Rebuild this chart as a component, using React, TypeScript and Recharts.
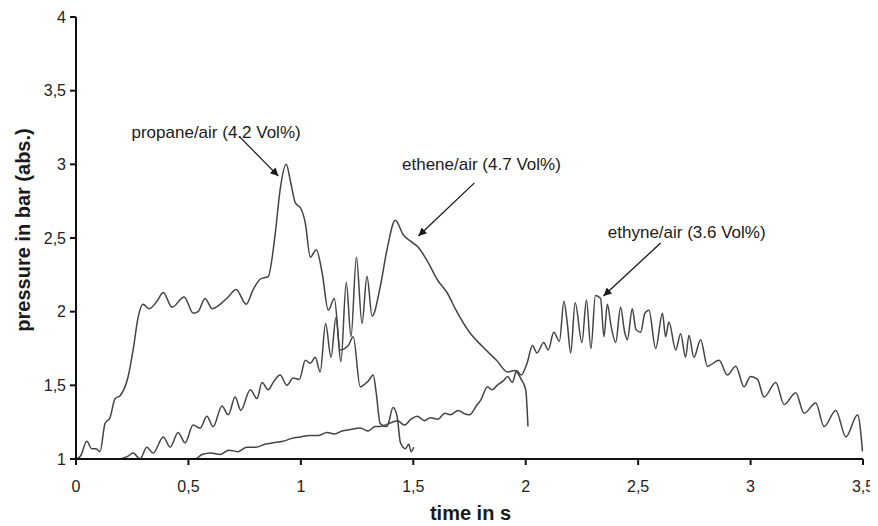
import React from 'react';
import { LineChart, Line, XAxis, YAxis, ReferenceLine, ReferenceDot } from 'recharts';

const xTicks = [0, 0.5, 1, 1.5, 2, 2.5, 3, 3.5];
const yTicks = [1, 1.5, 2, 2.5, 3, 3.5, 4];

const propane: [number, number][] = [
  [0.0, 1.0], [0.02, 1.02], [0.048, 1.12], [0.07, 1.07], [0.089, 1.07], [0.107, 1.05],
  [0.129, 1.24], [0.151, 1.28], [0.174, 1.41], [0.196, 1.43], [0.232, 1.56], [0.254, 1.74],
  [0.276, 1.96], [0.298, 2.05], [0.325, 2.02], [0.36, 2.07], [0.388, 2.13], [0.427, 2.03],
  [0.481, 2.1], [0.521, 1.99], [0.543, 2.0], [0.574, 2.09], [0.606, 2.02], [0.641, 2.05],
  [0.677, 2.1], [0.712, 2.15], [0.757, 2.05], [0.788, 2.15], [0.819, 2.22], [0.855, 2.24],
  [0.886, 2.53], [0.908, 2.83], [0.935, 3.0], [0.953, 2.89], [0.975, 2.74], [1.0, 2.7],
  [1.02, 2.6], [1.042, 2.37], [1.069, 2.42], [1.095, 2.26], [1.122, 2.01], [1.149, 2.09],
  [1.175, 1.74], [1.211, 1.77], [1.233, 1.83], [1.264, 1.49], [1.277, 1.5], [1.3, 1.53],
  [1.322, 1.57], [1.335, 1.45], [1.353, 1.24], [1.383, 1.22], [1.41, 1.35], [1.428, 1.29],
  [1.443, 1.11], [1.465, 1.07], [1.48, 1.1], [1.49, 1.05], [1.502, 1.08],
];

const ethene: [number, number][] = [
  [0.2, 1.0], [0.232, 1.02], [0.254, 1.04], [0.285, 1.0], [0.315, 1.08], [0.343, 1.04],
  [0.388, 1.15], [0.419, 1.08], [0.454, 1.18], [0.485, 1.11], [0.521, 1.23], [0.552, 1.21],
  [0.582, 1.29], [0.61, 1.22], [0.649, 1.36], [0.677, 1.3], [0.708, 1.42], [0.733, 1.33],
  [0.775, 1.47], [0.805, 1.41], [0.827, 1.52], [0.855, 1.47], [0.877, 1.52], [0.908, 1.57],
  [0.938, 1.5], [0.966, 1.55], [0.993, 1.54], [1.02, 1.67], [1.042, 1.65], [1.064, 1.69],
  [1.086, 1.59], [1.11, 1.92], [1.134, 1.69], [1.156, 1.96], [1.178, 1.66], [1.202, 2.2],
  [1.223, 1.83], [1.247, 2.37], [1.272, 1.92], [1.294, 2.24], [1.317, 1.97], [1.353, 2.17],
  [1.383, 2.42], [1.42, 2.62], [1.456, 2.52], [1.495, 2.47], [1.52, 2.44], [1.56, 2.35],
  [1.61, 2.21], [1.65, 2.13], [1.69, 2.01], [1.75, 1.86], [1.81, 1.76], [1.87, 1.67],
  [1.92, 1.59], [1.95, 1.6], [1.98, 1.54], [2.0, 1.47], [2.01, 1.22],
];

const ethyne: [number, number][] = [
  [0.5, 1.0], [0.53, 1.0], [0.56, 1.03], [0.6, 1.04], [0.64, 1.03], [0.68, 1.06], [0.72, 1.05],
  [0.76, 1.08], [0.8, 1.08], [0.84, 1.1], [0.877, 1.11], [0.92, 1.12], [0.96, 1.14], [1.0, 1.15],
  [1.04, 1.16], [1.08, 1.16], [1.116, 1.18], [1.15, 1.17], [1.183, 1.19], [1.22, 1.2],
  [1.264, 1.21], [1.3, 1.19], [1.33, 1.22], [1.353, 1.22], [1.39, 1.24], [1.43, 1.26],
  [1.46, 1.23], [1.49, 1.27], [1.517, 1.29], [1.55, 1.26], [1.576, 1.28], [1.61, 1.27],
  [1.64, 1.31], [1.665, 1.3], [1.7, 1.33], [1.724, 1.31], [1.75, 1.3], [1.78, 1.36],
  [1.8, 1.4], [1.83, 1.49], [1.85, 1.47], [1.873, 1.5], [1.9, 1.53], [1.92, 1.56],
  [1.94, 1.52], [1.96, 1.6], [1.98, 1.57], [2.006, 1.65], [2.03, 1.77], [2.05, 1.72],
  [2.08, 1.79], [2.1, 1.74], [2.125, 1.86], [2.15, 1.8], [2.17, 2.07], [2.185, 1.92],
  [2.2, 1.72], [2.22, 2.06], [2.25, 1.79], [2.27, 2.08], [2.29, 1.75], [2.31, 2.11],
  [2.333, 2.09], [2.348, 1.83], [2.363, 2.05], [2.38, 1.9], [2.4, 1.79], [2.422, 2.03],
  [2.44, 1.86], [2.452, 1.81], [2.474, 2.02], [2.49, 1.88], [2.511, 1.86], [2.53, 1.99],
  [2.548, 2.01], [2.578, 1.75], [2.608, 1.99], [2.622, 1.83], [2.637, 1.93], [2.667, 1.74],
  [2.689, 1.85], [2.711, 1.69], [2.726, 1.84], [2.748, 1.69], [2.778, 1.81], [2.808, 1.63],
  [2.86, 1.67], [2.897, 1.57], [2.934, 1.63], [2.971, 1.49], [3.0, 1.56], [3.031, 1.54],
  [3.06, 1.42], [3.112, 1.52], [3.149, 1.37], [3.201, 1.45], [3.238, 1.31], [3.29, 1.38],
  [3.327, 1.22], [3.379, 1.33], [3.424, 1.15], [3.476, 1.3], [3.498, 1.05],
];

const seriesNames = ['propane/air (4.2 Vol%)', 'ethene/air (4.7 Vol%)', 'ethyne/air (3.6 Vol%)'];
const labelPos: [number, number][] = [[0.623, 3.22], [1.803, 3.003], [2.716, 2.541]];
const arrowFrom: [number, number][] = [[0.726, 3.19], [1.772, 2.874], [2.6, 2.466]];
const arrowTo: [number, number][] = [[0.9, 2.92], [1.523, 2.514], [2.346, 2.107]];

const toRows = (pts: [number, number][]) => pts.map(([t, p]) => ({ t, p }));
const fmt = (v: number) => String(v).replace('.', ',');

const FONT = '"Liberation Sans", Arial, sans-serif';
const LINE = '#444444';

export default function App() {
  const series = [propane, ethene, ethyne];
  return (
    <LineChart width={870} height={518} margin={{ top: 9, right: 15, bottom: 0, left: 0 }}>
      <defs>
        <marker id="arrowHead" viewBox="0 0 10 10" refX="10" refY="5" markerWidth="11" markerHeight="8"
          markerUnits="userSpaceOnUse" orient="auto">
          <path d="M0,0 L10,5 L0,10 z" fill="#1a1a1a" />
        </marker>
      </defs>
      <XAxis
        type="number"
        dataKey="t"
        domain={[0, 3.5]}
        ticks={xTicks}
        tickFormatter={fmt}
        height={67}
        tickSize={6}
        tickMargin={16}
        axisLine={{ stroke: '#111', strokeWidth: 2 }}
        tickLine={{ stroke: '#111', strokeWidth: 2 }}
        tick={{ fill: '#222', fontSize: 16, fontFamily: FONT }}
        allowDataOverflow
        label={{
          position: 'center',
          content: (props: any) => {
            const vb = props.viewBox;
            return (
              <text x={vb.x + vb.width / 2 + 1} y={vb.y + 61} textAnchor="middle"
                fontFamily={FONT} fontWeight="bold" fontSize={20} fill="#1a1a1a">
                time in s
              </text>
            );
          },
        }}
      />
      <YAxis
        type="number"
        domain={[1, 4]}
        ticks={yTicks}
        tickFormatter={fmt}
        width={68}
        tickSize={6}
        tickMargin={4}
        axisLine={{ stroke: '#111', strokeWidth: 2 }}
        tickLine={{ stroke: '#111', strokeWidth: 2 }}
        tick={{ fill: '#222', fontSize: 16, fontFamily: FONT }}
        allowDataOverflow
        label={{
          position: 'center',
          content: (props: any) => {
            const vb = props.viewBox;
            return (
              <text transform={`translate(${vb.x + 22}, ${vb.y + vb.height / 2 - 8}) rotate(-90)`}
                textAnchor="middle" fontFamily={FONT} fontWeight="bold" fontSize={20} fill="#1a1a1a">
                pressure in bar (abs.)
              </text>
            );
          },
        }}
      />
      {series.map((s, i) => (
        <Line
          key={seriesNames[i]}
          name={seriesNames[i]}
          data={toRows(s)}
          dataKey="p"
          type="monotone"
          stroke={LINE}
          strokeWidth={1.5}
          dot={false}
          activeDot={false}
          isAnimationActive={false}
        />
      ))}
      {arrowFrom.map((f, i) => (
        <ReferenceLine
          key={'arr' + i}
          segment={[{ x: f[0], y: f[1] }, { x: arrowTo[i][0], y: arrowTo[i][1] }]}
          stroke="#1a1a1a"
          strokeWidth={1.3}
          ifOverflow="visible"
          shape={(props: any) => (
            <line x1={props.x1} y1={props.y1} x2={props.x2} y2={props.y2}
              stroke="#1a1a1a" strokeWidth={1.3} markerEnd="url(#arrowHead)" />
          )}
        />
      ))}
      {labelPos.map((lp, i) => (
        <ReferenceDot
          key={'lbl' + i}
          x={lp[0]}
          y={lp[1]}
          r={0}
          fill="none"
          stroke="none"
          ifOverflow="visible"
          label={{ value: seriesNames[i], position: 'center', fill: '#1a1a1a', fontSize: 17, fontFamily: FONT }}
        />
      ))}
    </LineChart>
  );
}
